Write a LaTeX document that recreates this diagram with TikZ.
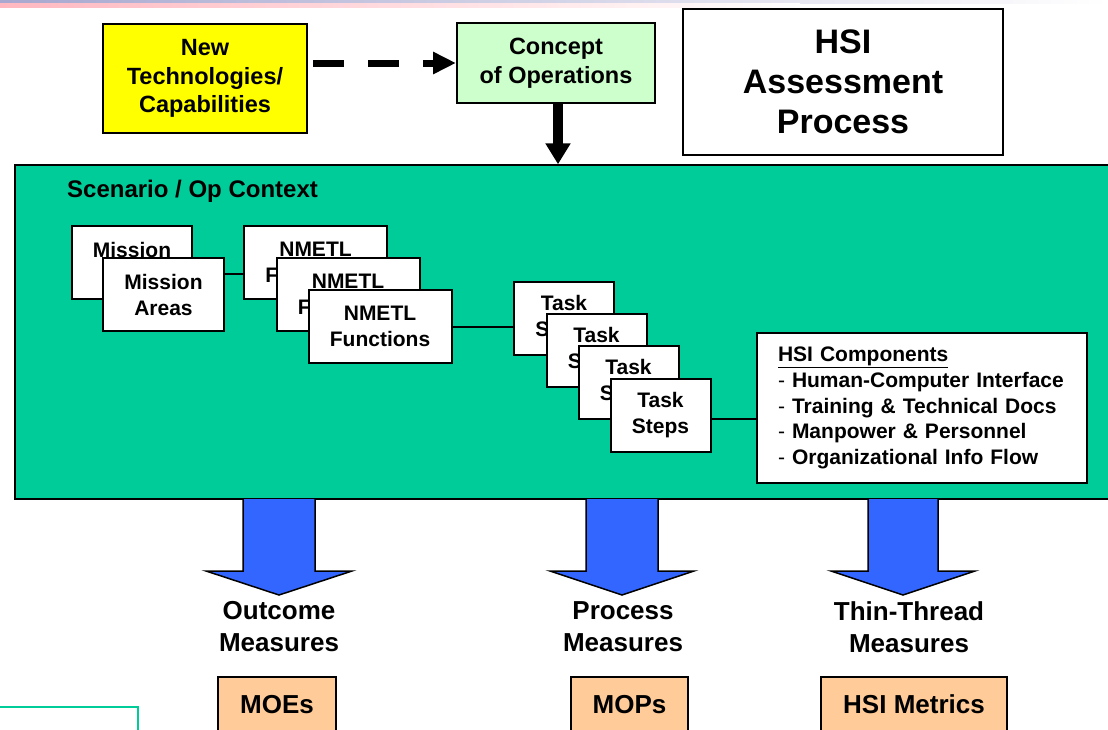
\documentclass[tikz,border=0pt]{standalone}
\usepackage{fontspec}
\setmainfont{Liberation Sans}
\usetikzlibrary{arrows.meta,calc}
\definecolor{panelgreen}{HTML}{00CC99}
\definecolor{conceptgreen}{HTML}{CCFFCC}
\definecolor{techyellow}{HTML}{FFFF00}
\definecolor{metricorange}{HTML}{FFCC99}
\definecolor{arrowblue}{HTML}{3366FF}
\definecolor{stripblue}{HTML}{A8A8D0}
\definecolor{strippink}{HTML}{FFB8C0}
\newcommand{\fsz}[2]{\fontsize{#1}{#2}\selectfont\bfseries}
\begin{document}
\begin{tikzpicture}[x=1pt,y=-1pt,
  box/.style={draw=black, line width=2pt, fill=white, inner sep=0pt, align=center, text=black},
  topbox/.style={box, font=\fsz{23.5}{28.5}},
  stackbox/.style={box, font=\fsz{21}{26}, minimum height=73pt},
  measure/.style={inner sep=0pt, align=center, font=\fsz{26}{32}},
  metricbox/.style={box, fill=metricorange, anchor=north, font=\fsz{26}{32}, text height=36.4pt, text depth=30pt},
  bigarrow/.style={fill=arrowblue, draw=black, line width=1.5pt, line join=miter},
  link/.style={draw=black, line width=2pt}
]
\useasboundingbox (0,0) rectangle (1108,729);
\clip (0,0) rectangle (1108,729);

% top strip
\shade[left color=stripblue, right color=white] (0,0) rectangle (1108,3);
\shade[left color=strippink, right color=white] (0,3) rectangle (800,7);

% top boxes
\node[topbox, fill=techyellow, minimum width=204pt, minimum height=109pt] (ny) at (205,78.5) {New\\Technologies/\\Capabilities};
\node[topbox, fill=conceptgreen, minimum width=198pt, minimum height=80pt] (cc) at (556,63) {Concept\\of Operations};
\node[box, minimum width=320pt, minimum height=146pt, font=\fsz{34}{40}] (hap) at (843,82) {HSI\\Assessment\\Process};

% green panel
\node[draw=black, line width=1.5pt, fill=panelgreen, minimum width=1110pt, minimum height=334pt, inner sep=0pt] (panel) at (570,332) {};
\node[anchor=west, inner sep=0pt, font=\fsz{24}{28}] (scen) at (67,191) {Scenario / Op Context};

% arrows at top
\draw[line width=7pt, dash pattern=on 31pt off 24pt, -{Triangle[length=23pt,width=21pt]}]
  ([xshift=5pt]ny.east |- cc.west) -- (cc.west);
\draw[line width=10pt, -{Triangle[length=21pt,width=24pt]}]
  ([xshift=2pt]cc.south) -- ([xshift=2pt]cc.south |- panel.north);

% mission stack
\node[stackbox, minimum width=120pt] (mb) at (132,262.5) {Mission\\Areas};
\node[stackbox, minimum width=121pt] (mf) at (163.5,294.5) {Mission\\Areas};
% NMETL stack
\node[stackbox, minimum width=143pt] (nb) at (315.5,262.5) {NMETL\\Functions};
\node[stackbox, minimum width=143pt] (nm) at (348,294.5) {NMETL\\Functions};
\node[stackbox, minimum width=143pt] (nf) at (380,326.5) {NMETL\\Functions};
% task stack
\node[stackbox, minimum width=100pt] (tb) at (564,318.5) {Task\\Steps};
\node[stackbox, minimum width=100pt] (t2) at (596.5,350.5) {Task\\Steps};
\node[stackbox, minimum width=100pt] (t3) at (628.5,382.5) {Task\\Steps};
\node[stackbox, minimum width=100pt] (tf) at (660.5,415) {Task\\Steps};
% HSI components
\node[box, minimum width=330pt, minimum height=150pt, inner xsep=21pt, text width=288pt, align=left, font=\fontsize{21}{25.7}\selectfont] (hc) at (922,408)
  {\underline{\textbf{HSI Components}}\\
   - \textbf{Human-Computer Interface}\\
   - \textbf{Training \& Technical Docs}\\
   - \textbf{Manpower \& Personnel}\\
   - \textbf{Organizational Info Flow}};

% links
\coordinate (l1) at ([yshift=20.5pt]mf.east);
\draw[link] (l1) -- (l1 -| nb.west);
\draw[link] (nf.east) -- (nf.east -| tb.west);
\coordinate (l3) at ([yshift=-4pt]tf.east);
\draw[link] (l3) -- (l3 -| hc.west);

% big blue arrows
\filldraw[bigarrow] (243,499) -- (243,571) -- (206,571) -- (279,595) -- (352,571) -- (315,571) -- (315,499);
\filldraw[bigarrow] (586,499) -- (586,571) -- (550,571) -- (622,595) -- (694,571) -- (658,571) -- (658,499);
\filldraw[bigarrow] (868,499) -- (868,571) -- (831,571) -- (903,595) -- (975,571) -- (938,571) -- (938,499);

% measure labels
\node[measure] (om) at (279,627) {Outcome\\Measures};
\node[measure] (pm) at (623,627) {Process\\Measures};
\node[measure] (tm) at (909,627) {Thin-Thread\\Measures};

% metric boxes
\node[metricbox, minimum width=118pt] (moe) at (277,676) {MOEs};
\node[metricbox, minimum width=117pt] (mop) at (629.5,676) {MOPs};
\node[metricbox, minimum width=186pt] (hsim) at (914,676) {HSI Metrics};

% bottom-left frame corner
\draw[panelgreen, line width=1.5pt] (0,707) -- (138,707) -- (138,735);
\end{tikzpicture}
\end{document}
